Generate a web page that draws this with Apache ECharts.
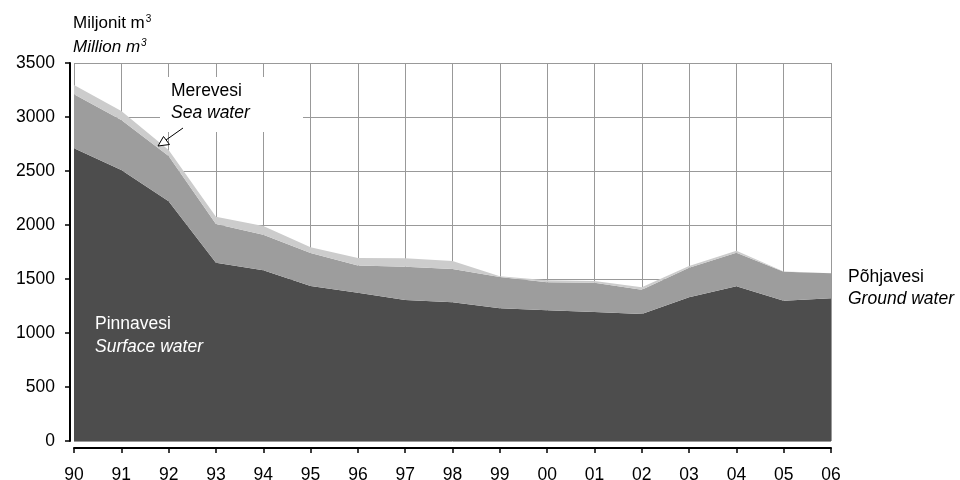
<!DOCTYPE html>
<html>
<head>
<meta charset="utf-8">
<script src="https://cdn.jsdelivr.net/npm/echarts@6/dist/echarts.min.js"></script>
<style>html,body{margin:0;padding:0;background:#fff}#c{width:960px;height:480px}</style>
</head>
<body>
<div id="c"></div>
<script>
var years = ['90','91','92','93','94','95','96','97','98','99','00','01','02','03','04','05','06'];
var surfaceWater = [2710, 2510, 2220, 1650, 1580, 1435, 1373, 1306, 1284, 1230, 1210, 1195, 1176, 1330, 1432, 1298, 1322];
var groundWater = [500, 462, 419, 359, 330, 305, 252, 308, 309, 288, 259, 271, 224, 275, 312, 270, 231];
var seaWater = [86, 84, 55, 68, 80, 55, 70, 77, 74, 7, 19, 15, 23, 15, 18, 2, 2];
var yTicks = [0, 500, 1000, 1500, 2000, 2500, 3000, 3500];

var FONT = 'Liberation Sans, Arial, sans-serif';
var chart = echarts.init(document.getElementById('c'), null, {renderer: 'canvas'});

function areaSeries(name, data, color) {
  return {
    name: name, type: 'line', stack: 'total', data: data,
    symbol: 'none', lineStyle: {width: 0}, areaStyle: {color: color, opacity: 1},
    itemStyle: {color: color}, z: 3
  };
}

chart.setOption({
  animation: false,
  backgroundColor: '#fff',
  textStyle: {fontFamily: FONT},
  grid: {left: 74, right: 129, top: 63, bottom: 39, containLabel: false, outerBoundsMode: 'none'},
  xAxis: {
    type: 'category', data: years, boundaryGap: false, offset: 7,
    axisLine: {show: true, onZero: false, lineStyle: {color: '#000', width: 2}},
    axisTick: {show: true, inside: false, length: 5, lineStyle: {color: '#000', width: 1.5}},
    axisLabel: {color: '#000', fontSize: 17.5, fontFamily: FONT, margin: 18},
    splitLine: {show: true, lineStyle: {color: '#999', width: 1}}
  },
  yAxis: {
    type: 'value', min: yTicks[0], max: yTicks[yTicks.length - 1], interval: 500, offset: 4,
    axisLine: {show: true, onZero: false, lineStyle: {color: '#000', width: 2}},
    axisTick: {show: true, length: 5, lineStyle: {color: '#000', width: 1.5}},
    axisLabel: {color: '#000', fontSize: 17.5, fontFamily: FONT, margin: 15, formatter: function (v) { return String(v); }},
    splitLine: {show: true, lineStyle: {color: '#999', width: 1}}
  },
  series: [
    areaSeries('Pinnavesi', surfaceWater, '#4d4d4d'),
    areaSeries('Põhjavesi', groundWater, '#9d9d9d'),
    areaSeries('Merevesi', seaWater, '#cccccc')
  ],
  graphic: [
    {type: 'text', left: 73, top: 14, z: 10, style: {
      text: '{n|Miljonit m}{s|3}', fontFamily: FONT,
      rich: {n: {fontSize: 17, fill: '#000', fontFamily: FONT}, s: {fontSize: 10, fill: '#000', verticalAlign: 'top', padding: [0,0,8,1], fontFamily: FONT}}
    }},
    {type: 'text', left: 73, top: 38, z: 10, style: {
      text: '{n|Million m}{s|3}', fontFamily: FONT,
      rich: {n: {fontSize: 17, fontStyle: 'italic', fill: '#000', fontFamily: FONT}, s: {fontSize: 10, fontStyle: 'italic', fill: '#000', padding: [0,0,8,1], fontFamily: FONT}}
    }},
    {type: 'rect', shape: {x: 160, y: 77, width: 143, height: 55}, style: {fill: '#fff'}, z: 5},
    {type: 'text', x: 171, y: 91, z: 10, style: {text: 'Merevesi', fontSize: 17.5, fontFamily: FONT, fill: '#000', verticalAlign: 'middle'}},
    {type: 'text', x: 171, y: 113, z: 10, style: {text: 'Sea water', fontSize: 17.5, fontStyle: 'italic', fontFamily: FONT, fill: '#000', verticalAlign: 'middle'}},
    {type: 'line', shape: {x1: 183, y1: 128, x2: 166, y2: 140}, style: {stroke: '#000', lineWidth: 1}, z: 10},
    {type: 'polygon', shape: {points: [[158, 146], [163.5, 136.5], [169.5, 144.5]]}, style: {fill: '#fff', stroke: '#000', lineWidth: 1}, z: 10},
    {type: 'text', x: 848, y: 277, z: 10, style: {text: 'Põhjavesi', fontSize: 17.5, fontFamily: FONT, fill: '#000', verticalAlign: 'middle'}},
    {type: 'text', x: 848, y: 299, z: 10, style: {text: 'Ground water', fontSize: 17.5, fontStyle: 'italic', fontFamily: FONT, fill: '#000', verticalAlign: 'middle'}},
    {type: 'text', x: 95, y: 324, z: 10, style: {text: 'Pinnavesi', fontSize: 17.5, fontFamily: FONT, fill: '#fff', verticalAlign: 'middle'}},
    {type: 'text', x: 95, y: 347, z: 10, style: {text: 'Surface water', fontSize: 17.5, fontStyle: 'italic', fontFamily: FONT, fill: '#fff', verticalAlign: 'middle'}}
  ]
});
</script>
</body>
</html>
